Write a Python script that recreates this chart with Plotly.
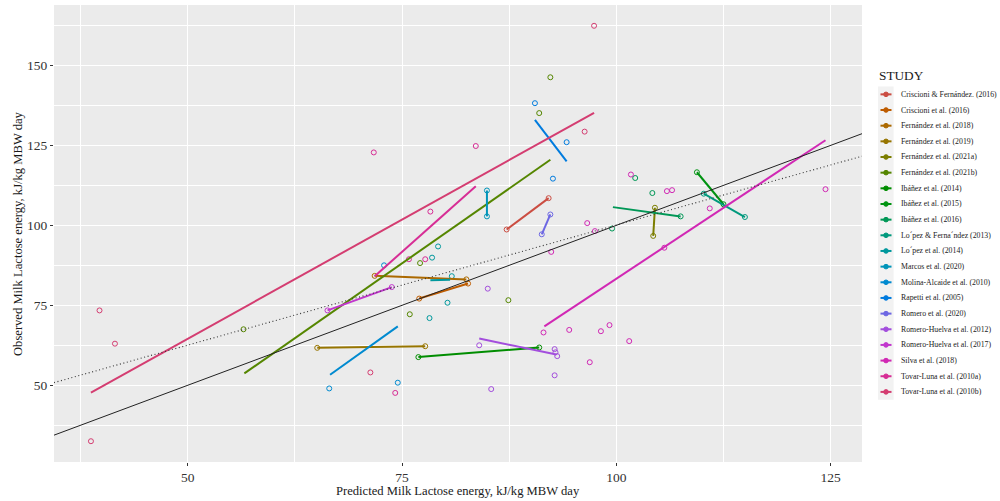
import math
import plotly.graph_objects as go

# ---------------------------------------------------------------- data
studies = [
    "Criscioni & Fernández. (2016)",
    "Criscioni et al. (2016)",
    "Fernández et al. (2018)",
    "Fernández et al. (2019)",
    "Fernández et al. (2021a)",
    "Fernández et al. (2021b)",
    "Ibáñez et al. (2014)",
    "Ibáñez et al. (2015)",
    "Ibáñez et al. (2016)",
    "Lo´pez & Ferna´ndez (2013)",
    "Lo´pez et al. (2014)",
    "Marcos et al. (2020)",
    "Molina-Alcaide et al. (2010)",
    "Rapetti et al. (2005)",
    "Romero et al. (2020)",
    "Romero-Huelva et al. (2012)",
    "Romero-Huelva et al. (2017)",
    "Silva et al. (2018)",
    "Tovar-Luna et al. (2010a)",
    "Tovar-Luna et al. (2010b)",
]

# within-study fitted lines: start (x0, y0) and end (x1, y1)
fit_x0 = [87.2, 77.0, 71.8, 65.1, 104.5, 56.6, 76.9, 109.4, 99.6, 110.2,
          78.3, 84.9, 66.6, 90.5, 91.3, 84.0, 66.3, 91.6, 71.8, 38.7]
fit_y0 = [98.7, 77.1, 84.2, 61.7, 105.5, 53.7, 58.8, 116.6, 105.7, 109.9,
          82.8, 110.9, 53.3, 133.0, 97.2, 64.6, 73.4, 68.4, 84.1, 47.7]
fit_x1 = [92.1, 82.7, 82.5, 77.7, 104.3, 92.3, 91.0, 112.5, 107.5, 115.0,
          80.6, 84.9, 74.5, 94.2, 92.3, 93.0, 73.8, 124.4, 83.6, 97.4]
fit_y1 = [108.5, 81.8, 83.1, 62.2, 96.7, 120.5, 61.8, 106.6, 102.8, 102.6,
          83.0, 102.8, 68.4, 120.0, 103.4, 59.6, 80.7, 126.6, 112.2, 135.2]

# observations: study index, predicted and observed lactose energy
obs_study = [0, 0,
             1, 1,
             2, 2,
             3, 3,
             4, 4,
             5, 5, 5, 5, 5, 5,
             6, 6,
             7, 7,
             8, 8, 8, 8,
             9, 9,
             10, 10, 10, 10, 10,
             11, 11,
             12, 12, 12,
             13, 13, 13,
             14, 14,
             15, 15, 15, 15, 15, 15, 15,
             16, 16,
             17, 17, 17, 17, 17, 17, 17, 17, 17, 17, 17, 17, 17, 17, 17,
             18, 18, 18, 18, 18, 18,
             19, 19, 19, 19, 19, 19]
obs_pred = [87.2, 92.1,
            77.0, 82.7,
            71.8, 82.5,
            65.1, 77.7,
            104.5, 104.3,
            56.5, 91.0, 92.3, 77.1, 75.9, 87.4,
            76.9, 91.0,
            109.4, 112.5,
            99.5, 102.2, 104.2, 107.5,
            110.2, 115.0,
            78.2, 78.5, 79.2, 80.3, 80.8,
            84.9, 84.9,
            66.5, 74.5, 72.9,
            90.5, 94.2, 92.6,
            91.3, 92.3,
            84.0, 85.0, 85.4, 92.8, 92.9, 93.1, 92.8,
            66.3, 73.8,
            91.5, 94.5, 98.2, 99.2, 101.5, 96.9, 124.4, 110.9, 105.9, 106.5,
            101.7, 96.6, 97.5, 92.4, 105.6,
            71.7, 83.6, 78.3, 75.8, 77.7, 74.2,
            38.7, 39.7, 41.5, 97.4, 96.3, 71.3]
obs_value = [98.7, 108.5,
             77.1, 81.8,
             84.2, 83.1,
             61.7, 62.2,
             105.5, 96.7,
             67.5, 135.1, 146.3, 88.2, 72.2, 76.6,
             58.8, 61.8,
             116.6, 106.6,
             99.0, 114.8, 110.1, 102.8,
             109.9, 102.6,
             71.0, 89.9, 93.4, 75.8, 84.1,
             110.9, 102.8,
             49.0, 50.8, 87.5,
             138.2, 126.0, 114.6,
             97.2, 103.4,
             62.5, 80.2, 48.8, 61.3, 60.3, 59.1, 53.1,
             73.4, 80.7,
             66.5, 67.3, 66.9, 68.8, 63.8, 57.2, 111.3, 105.3, 110.7, 111.0,
             115.9, 100.7, 98.2, 91.7, 93.0,
             122.8, 124.8, 104.3, 89.4, 89.4, 47.6,
             32.5, 73.4, 63.0, 162.4, 129.3, 54.0]

# overall regression of observed on predicted
reg_intercept = 25.0
reg_slope = 0.751

x_range = [34.39, 128.66]
y_range = [26.0, 168.9]
x_ticks = [50, 75, 100, 125]
y_ticks = [50, 75, 100, 125, 150]

x_title = "Predicted Milk Lactose energy, kJ/kg MBW day"
y_title = "Observed Milk Lactose energy, kJ/kg MBW day"


# ---------------------------------------------------------------- colours
def hcl_hex(h, c, l):
    """Polar CIE-LUV to sRGB hex (D65 white)."""
    xn, yn, zn = 95.047, 100.0, 108.883
    un = 4 * xn / (xn + 15 * yn + 3 * zn)
    vn = 9 * yn / (xn + 15 * yn + 3 * zn)
    u = c * math.cos(math.radians(h))
    v = c * math.sin(math.radians(h))
    y = yn * ((l + 16) / 116) ** 3 if l > 8 else yn * l / 903.3
    up = u / (13 * l) + un
    vp = v / (13 * l) + vn
    x = y * 9 * up / (4 * vp)
    z = y * (12 - 3 * up - 20 * vp) / (4 * vp)
    x, y, z = x / 100, y / 100, z / 100
    rgb = [3.2404542 * x - 1.5371385 * y - 0.4985314 * z,
           -0.9692660 * x + 1.8760108 * y + 0.0415560 * z,
           0.0556434 * x - 0.2040259 * y + 1.0572252 * z]
    out = []
    for ch in rgb:
        ch = 1.055 * ch ** (1 / 2.4) - 0.055 if ch > 0.0031308 else 12.92 * ch
        out.append(int(round(min(max(ch, 0), 1) * 255)))
    return "#%02X%02X%02X" % tuple(out)


n = len(studies)
colors = [hcl_hex(15 + 360 * i / n, 100, 50) for i in range(n)]

FONT = "Liberation Serif"

# ---------------------------------------------------------------- figure
fig = go.Figure()

for i, name in enumerate(studies):
    xs = [p for s, p in zip(obs_study, obs_pred) if s == i]
    ys = [o for s, o in zip(obs_study, obs_value) if s == i]
    fig.add_trace(go.Scatter(
        x=xs, y=ys, mode="markers", name=name, showlegend=False,
        marker=dict(symbol="circle-open", size=5, color=colors[i],
                    line=dict(width=1, color=colors[i])),
        hoverinfo="skip"))

for i, name in enumerate(studies):
    fig.add_trace(go.Scatter(
        x=[fit_x0[i], fit_x1[i]], y=[fit_y0[i], fit_y1[i]], mode="lines",
        name=name, showlegend=False,
        line=dict(color=colors[i], width=2), hoverinfo="skip"))

# 1:1 line
fig.add_trace(go.Scatter(
    x=x_range, y=x_range, mode="lines", showlegend=False,
    line=dict(color="#222222", width=1), hoverinfo="skip"))

# overall regression line
fig.add_trace(go.Scatter(
    x=x_range, y=[reg_intercept + reg_slope * v for v in x_range],
    mode="lines", showlegend=False,
    line=dict(color="#333333", width=1.1, dash="1px,2.6px"),
    hoverinfo="skip"))

fig.update_layout(
    width=1000, height=501,
    margin=dict(l=54, r=138, t=5, b=39.3, pad=0),
    paper_bgcolor="white", plot_bgcolor="#EBEBEB",
    font=dict(family=FONT, color="#1A1A1A"),
    showlegend=False,
)

axis_common = dict(
    showgrid=True, gridcolor="white", gridwidth=1.1,
    zeroline=False, showline=False,
    ticks="outside", ticklen=3, tickwidth=1, tickcolor="#333333",
    tickfont=dict(family=FONT, size=13.5, color="#333333"),
)

fig.update_xaxes(
    range=x_range, tickvals=x_ticks,
    minor=dict(tickvals=[37.5, 62.5, 87.5, 112.5], showgrid=True,
               gridcolor="white", gridwidth=0.5, ticks=""),
    **axis_common)
fig.update_yaxes(
    range=y_range, tickvals=y_ticks,
    minor=dict(tickvals=[37.5, 62.5, 87.5, 112.5, 137.5, 162.5],
               showgrid=True, gridcolor="white", gridwidth=0.5, ticks=""),
    **axis_common)

# ---------------------------------------------------------------- titles & legend
plot_w = 1000 - 54 - 138
plot_h = 501 - 5 - 39.3


def px(xp):
    return (xp - 54) / plot_w


def py(yp):
    return (5 + plot_h - yp) / plot_h


fig.add_annotation(
    x=0.5, y=py(490.5), xref="paper", yref="paper", text=x_title,
    showarrow=False, xanchor="center", yanchor="middle", borderpad=0,
    font=dict(family=FONT, size=12.6, color="#1A1A1A"))
fig.add_annotation(
    x=px(17.5), y=0.5, xref="paper", yref="paper", text=y_title,
    showarrow=False, xanchor="center", yanchor="middle", textangle=-90,
    font=dict(family=FONT, size=12.6, color="#1A1A1A"))

key_top = 94.3
key_step = 15.65
key_x0, key_x1 = 878.0, 893.6

fig.add_annotation(
    x=px(877), y=py(75), xref="paper", yref="paper",
    text="STUDY", showarrow=False, xanchor="left", yanchor="middle",
    font=dict(family=FONT, size=13.3, color="#1A1A1A"))

fig.add_shape(
    type="rect", xref="paper", yref="paper",
    x0=px(key_x0), x1=px(key_x1),
    y0=py(key_top - key_step / 2), y1=py(key_top + key_step * (n - 0.5)),
    fillcolor="#F2F2F2", line=dict(width=0), layer="below")

for i, name in enumerate(studies):
    cy = key_top + key_step * i
    fig.add_shape(
        type="line", xref="paper", yref="paper",
        x0=px(880.5), x1=px(891.5), y0=py(cy), y1=py(cy),
        line=dict(color=colors[i], width=2))
    fig.add_shape(
        type="circle", xref="paper", yref="paper",
        x0=px(886 - 2.3), x1=px(886 + 2.3), y0=py(cy - 2.3), y1=py(cy + 2.3),
        line=dict(color=colors[i], width=1), fillcolor=colors[i])
    fig.add_annotation(
        x=px(898.5), y=py(cy), xref="paper", yref="paper",
        text=name, showarrow=False, xanchor="left", yanchor="middle",
        font=dict(family=FONT, size=7.8, color="#1A1A1A"))

fig.write_html("out.html")
